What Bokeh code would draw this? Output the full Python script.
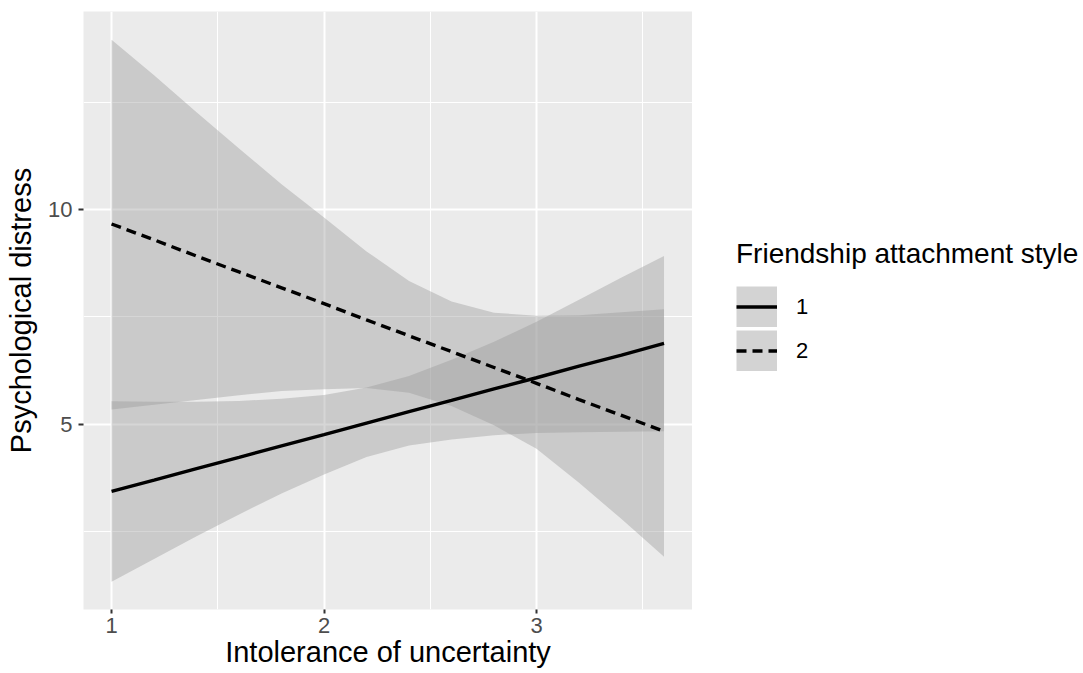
from bokeh.plotting import figure
from bokeh.models import Range1d, FixedTicker, Legend, LegendItem
from bokeh.layouts import row
from bokeh.embed import file_html
from bokeh.resources import INLINE

# ---- data ----
iu = [1.0, 1.2, 1.4, 1.6, 1.8, 2.0, 2.2, 2.4, 2.6, 2.8, 3.0, 3.2, 3.4, 3.6]

style1_fit = [3.43, 3.69, 3.96, 4.22, 4.49, 4.75, 5.02, 5.29, 5.55, 5.82, 6.08, 6.35, 6.61, 6.88]
style1_low = [1.32, 1.85, 2.38, 2.89, 3.38, 3.82, 4.23, 4.50, 4.64, 4.74, 4.79, 4.81, 4.82, 4.83]
style1_high = [5.53, 5.52, 5.52, 5.54, 5.59, 5.68, 5.85, 6.12, 6.50, 6.92, 7.39, 7.90, 8.42, 8.92]

style2_fit = [9.67, 9.30, 8.92, 8.55, 8.18, 7.81, 7.43, 7.06, 6.69, 6.32, 5.95, 5.57, 5.20, 4.83]
style2_low = [5.34, 5.45, 5.56, 5.67, 5.77, 5.81, 5.84, 5.73, 5.42, 4.97, 4.42, 3.63, 2.78, 1.90]
style2_high = [13.97, 13.14, 12.28, 11.43, 10.60, 9.82, 9.03, 8.34, 7.86, 7.60, 7.53, 7.54, 7.61, 7.68]

x_ticks = [1, 2, 3]
x_minor = [1.5, 2.5, 3.5]
y_ticks = [5, 10]
y_minor = [2.5, 7.5, 12.5]

legend_title = "Friendship attachment style"
legend_labels = ["1", "2"]
x_title = "Intolerance of uncertainty"
y_title = "Psychological distress"

FONT = "Liberation Sans"
H = 670

# ---------------- main panel ----------------
p = figure(width=692, height=H, output_backend="svg", toolbar_location=None,
           x_range=Range1d(0.868, 3.734), y_range=Range1d(0.67, 14.63),
           min_border_left=83, min_border_right=0, min_border_top=11,
           min_border_bottom=0)
p.background_fill_color = "#EBEBEB"
p.border_fill_color = "white"
p.outline_line_color = None

xt = FixedTicker(ticks=x_ticks, minor_ticks=x_minor)
yt = FixedTicker(ticks=y_ticks, minor_ticks=y_minor)
p.xaxis.ticker = xt
p.yaxis.ticker = yt
p.xgrid.ticker = xt
p.ygrid.ticker = yt

for g in (p.xgrid, p.ygrid):
    g.grid_line_color = "white"
    g.grid_line_width = 2
    g.minor_grid_line_color = "white"
    g.minor_grid_line_width = 1

for ax in (p.xaxis, p.yaxis):
    ax.axis_line_color = None
    ax.major_tick_line_color = "#333333"
    ax.major_tick_line_width = 2
    ax.major_tick_in = 0
    ax.minor_tick_line_color = None
    ax.major_label_text_font = FONT
    ax.major_label_text_font_size = "22px"
    ax.major_label_text_color = "#4D4D4D"
    ax.axis_label_text_font = FONT
    ax.axis_label_text_font_size = "29px"
    ax.axis_label_text_font_style = "normal"
    ax.axis_label_text_color = "black"

p.xaxis.major_tick_out = 4
p.xaxis.major_label_standoff = 4
p.xaxis.axis_label_standoff = 0
p.yaxis.major_tick_out = 5
p.yaxis.major_label_standoff = 6
p.yaxis.axis_label_standoff = 8
p.xaxis.axis_label = x_title
p.yaxis.axis_label = y_title

p.varea(x=iu, y1=style1_low, y2=style1_high, fill_color="#999999", fill_alpha=0.4)
p.varea(x=iu, y1=style2_low, y2=style2_high, fill_color="#999999", fill_alpha=0.4)
p.line(iu, style1_fit, line_color="black", line_width=3.4)
p.line(iu, style2_fit, line_color="black", line_width=3.4, line_dash="10 6")

# ---------------- legend panel ----------------
LW = 1080 - 692
q = figure(width=LW, height=H, output_backend="svg", toolbar_location=None,
           x_range=Range1d(0, LW), y_range=Range1d(0, H),
           x_axis_type=None, y_axis_type=None,
           min_border_left=0, min_border_right=0, min_border_top=0, min_border_bottom=0)
q.background_fill_color = "white"
q.border_fill_color = "white"
q.outline_line_color = None
q.grid.visible = False

# legend proxies (kept outside the visible range)
key_bg = q.line(x=[-20, -10], y=[-20, -20], line_color="#D3D3D3", line_width=41)
key_1 = q.line(x=[-20, -10], y=[-20, -20], line_color="black", line_width=3.4)
key_2 = q.line(x=[-20, -10], y=[-20, -20], line_color="black", line_width=3.4,
               line_dash="10 6")

legend = Legend(
    items=[LegendItem(label=legend_labels[0], renderers=[key_bg, key_1]),
           LegendItem(label=legend_labels[1], renderers=[key_bg, key_2])],
    location=(44, 238),
    title=legend_title,
    title_text_font=FONT, title_text_font_size="28px", title_text_font_style="normal",
    title_text_color="black", title_standoff=16,
    label_text_font=FONT, label_text_font_size="22px", label_text_color="black",
    label_standoff=19, glyph_width=41, glyph_height=41, spacing=3,
    padding=0, margin=0, border_line_color=None, background_fill_alpha=0,
)
q.add_layout(legend)

layout = row(p, q, spacing=0)
open("out.html", "w").write(file_html(layout, INLINE))
